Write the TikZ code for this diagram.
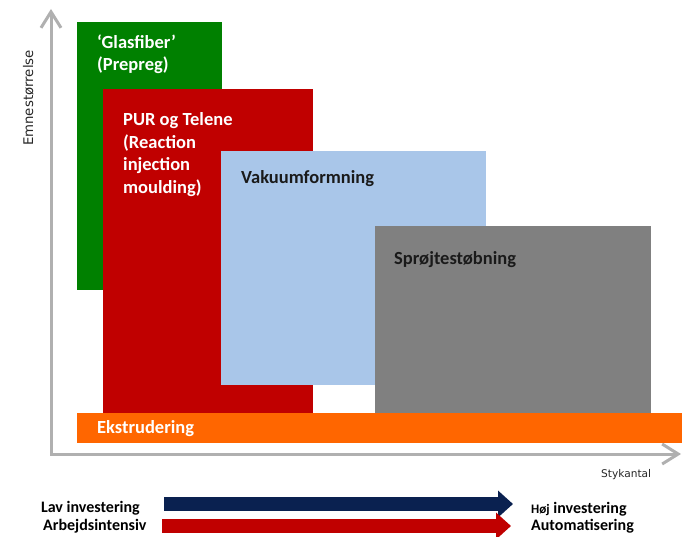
\documentclass[tikz,border=0pt]{standalone}
\usepackage{fontspec}
\setmainfont{Carlito}
\newfontfamily\axfont{DejaVu Sans}
\usetikzlibrary{arrows.meta}
\definecolor{cgreen}{HTML}{008000}
\definecolor{cred}{HTML}{C00000}
\definecolor{cblue}{HTML}{A9C6E9}
\definecolor{cgray}{HTML}{808080}
\definecolor{corange}{HTML}{FF6600}
\definecolor{cnavy}{HTML}{0A2150}
\definecolor{axgray}{HTML}{B0B0B0}
\definecolor{txtdark}{HTML}{1A1A1A}
\begin{document}
\begin{tikzpicture}[x=1pt,y=-1pt,
  blk/.style={anchor=north west, inner sep=0pt, outer sep=0pt, draw=none},
  wlab/.style={anchor=base west, inner sep=0pt, text=white, font=\bfseries\fontsize{18.5}{22.5}\selectfont},
  dlab/.style={anchor=base west, inner sep=0pt, text=txtdark, font=\bfseries\fontsize{18.5}{22.5}\selectfont},
  blab/.style={anchor=base west, inner sep=0pt, text=black, font=\bfseries\fontsize{16}{19}\selectfont},
  axlab/.style={inner sep=0pt, text=black!85, font=\axfont\fontsize{10.6}{12}\selectfont},
  axisline/.style={draw=axgray, line width=3pt, line join=miter,
    {Straight Barb[length=16pt,width=20pt]}-{Straight Barb[length=16pt,width=20pt]}},
  blockarrow/.style={line width=14pt, -{Triangle[length=15pt,width=26pt]}}
]
\useasboundingbox (0,0) rectangle (682,537);

% axes
\coordinate (ytip) at (51,9);
\coordinate (orig) at (51,454);
\coordinate (xtip) at (681,454);
\draw[axisline] (ytip) -- (orig) -- (xtip);
\node[axlab, rotate=90, anchor=base, font=\axfont\fontsize{13.3}{15}\selectfont] (ylab) at (33,98) {Emnestørrelse};
\node[axlab, anchor=base west] (xlab) at (601,477) {Stykantal};

% blocks
\node[blk, fill=cgreen, minimum width=145pt, minimum height=268pt] (glas) at (77,22) {};
\node[blk, fill=cred, minimum width=210pt, minimum height=324pt] (pur) at (103,89) {};
\node[blk, fill=cblue, minimum width=265pt, minimum height=234pt] (vak) at (221,151) {};
\node[blk, fill=cgray, minimum width=276pt, minimum height=187pt] (spr) at (375,226) {};
\node[blk, fill=corange, minimum width=605pt, minimum height=30pt] (eks) at (77,413) {};

% block labels
\node[wlab] (g1) at (97,48.5) {‘Glasfiber’};
\node[wlab] (g2) at (97,71) {(Prepreg)};
\node[wlab] (p1) at (123,126) {PUR og Telene};
\node[wlab] (p2) at (123,148.5) {(Reaction};
\node[wlab] (p3) at (123,171) {injection};
\node[wlab] (p4) at (123,193.5) {moulding)};
\node[dlab] (v1) at (241,184) {Vakuumformning};
\node[dlab] (s1) at (394,264) {Sprøjtestøbning};
\node[wlab] (e1) at (97,433) {Ekstrudering};

% bottom arrows
\coordinate (n1) at (164,504);
\coordinate (n2) at (513,504);
\coordinate (r1) at (162,526);
\coordinate (r2) at (511,526);
\draw[blockarrow, cnavy] (n1) -- (n2);
\draw[blockarrow, cred] (r1) -- (r2);

\node[blab, anchor=base east] (l1) at (140,512) {Lav investering};
\node[blab] (l2) at (43,530) {Arbejdsintensiv};
\node[blab] (h1) at (531,513) {{\fontsize{13}{15}\selectfont Høj} investering};
\node[blab] (h2) at (531,530) {Automatisering};
\end{tikzpicture}
\end{document}
